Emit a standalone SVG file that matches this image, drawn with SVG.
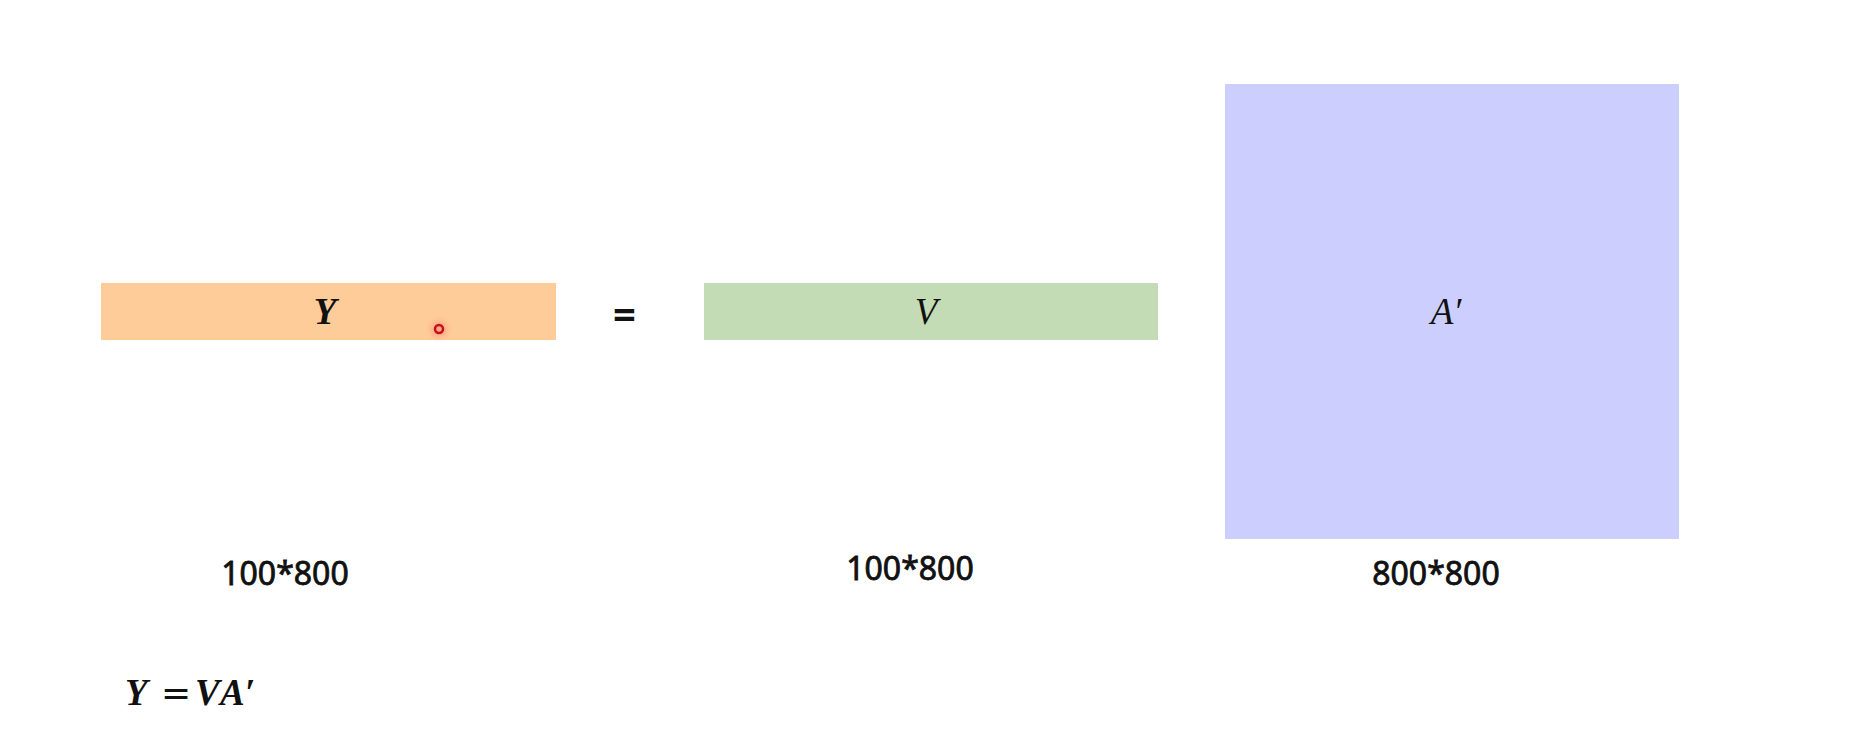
<svg xmlns="http://www.w3.org/2000/svg" width="1863" height="734" viewBox="0 0 1863 734">
<defs>
<style>
.math{font-family:"Liberation Serif","DejaVu Serif",serif;font-style:italic;font-size:37px;fill:#111}
.bold{font-weight:bold}
.dim{font-family:"Noto Sans","Open Sans","DejaVu Sans",sans-serif;font-size:32px;fill:#111;stroke:#111;stroke-width:0.8;text-anchor:middle}
.eq{font-family:"Noto Sans","DejaVu Sans",sans-serif;font-size:40px;font-weight:bold;fill:#111;text-anchor:middle}
.feq{font-family:"DejaVu Sans",sans-serif;font-size:36px;font-style:normal;font-weight:normal}
</style>
<filter id="glow" x="-100%" y="-100%" width="300%" height="300%"><feGaussianBlur stdDeviation="3"/></filter>
</defs>
<rect width="1863" height="734" fill="#ffffff"/>
<g id="nodeY">
<rect x="101" y="283" width="455" height="57" fill="#FECC99"/>
<text class="math bold" x="325" y="324" text-anchor="middle">Y</text>
</g>
<g id="equals">
<text class="eq" x="624.5" y="329">=</text>
</g>
<g id="nodeV">
<rect x="704" y="283" width="454" height="57" fill="#C4DCB5"/>
<text class="math" x="926" y="324" text-anchor="middle">V</text>
</g>
<g id="nodeA">
<rect x="1225" y="84" width="454" height="455" fill="#CCCFFE"/>
<text class="math" x="1446" y="324" text-anchor="middle">A′</text>
</g>
<g id="labels">
<text class="dim" x="285" y="585">100*800</text>
<text class="dim" x="910" y="580">100*800</text>
<text class="dim" x="1436" y="585">800*800</text>
</g>
<g id="formula">
<text class="math bold" y="705"><tspan x="125">Y</tspan><tspan x="161" class="feq">=</tspan><tspan x="195">V</tspan><tspan x="220">A′</tspan></text>
</g>
<g id="connectors"></g>
<g id="cursor">
<circle cx="439" cy="329" r="8" fill="#ff6060" opacity="0.35" filter="url(#glow)"/>
<circle cx="439" cy="329" r="4" fill="none" stroke="#c8101a" stroke-width="2.5"/>
</g>
</svg>
